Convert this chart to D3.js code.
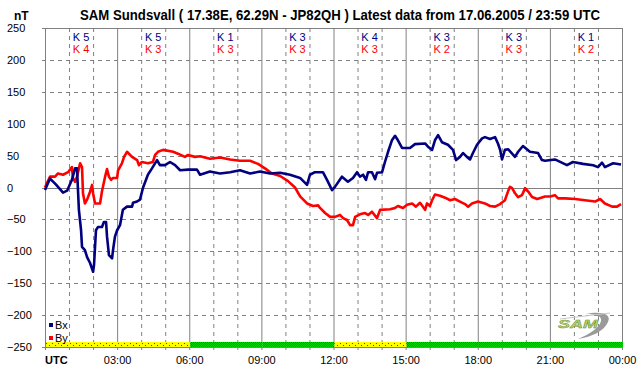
<!DOCTYPE html>
<html>
<head>
<meta charset="utf-8">
<script src="https://cdn.jsdelivr.net/npm/d3@7"></script>
<style>
  body { margin: 0; background: #fff; }
  svg { display: block; font-family: "Liberation Sans", Arial, sans-serif; }
</style>
</head>
<body>
<svg id="chart" width="642" height="376"></svg>
<script>
// Bx / By magnetometer readings, [hour UTC, nT]
const bx = [
  [0.00, -4], [0.21, 14], [0.45, 5], [0.75, -8], [0.92, -5], [1.12, 12], [1.25, 30], [1.33, 30],
  [1.41, -35], [1.50, -67], [1.54, -93], [1.66, -98], [1.75, -109], [1.87, -118], [2.00, -132],
  [2.04, -121], [2.12, -67], [2.20, -62], [2.37, -62], [2.45, -54], [2.54, -54], [2.58, -77],
  [2.66, -106], [2.79, -111], [2.83, -98], [2.91, -77], [3.00, -67], [3.12, -59], [3.24, -35],
  [3.41, -30], [3.62, -30], [3.66, -24], [3.83, -22], [3.95, -19], [4.08, 0], [4.28, 20],
  [4.45, 30], [4.66, 43], [4.78, 35], [4.99, 35], [5.20, 40], [5.41, 35], [5.62, 27], [5.95, 28],
  [6.32, 28], [6.45, 20], [6.86, 25], [7.28, 22], [7.70, 24], [8.11, 27], [8.53, 22], [8.94, 25],
  [9.36, 22], [9.78, 23], [10.19, 20], [10.61, 15], [10.90, 4], [11.02, 20], [11.23, 24],
  [11.56, 24], [11.73, 12], [11.94, -4], [12.06, 1], [12.35, 17], [12.60, 9], [12.81, 15],
  [12.98, 24], [13.10, 17], [13.23, 20], [13.35, 12], [13.44, 24], [13.60, 24], [13.73, 13],
  [13.81, 23], [14.02, 24], [14.14, 40], [14.27, 56], [14.43, 74], [14.56, 81], [14.68, 74],
  [14.85, 62], [15.18, 62], [15.39, 68], [15.81, 69], [15.93, 64], [16.10, 59], [16.22, 74],
  [16.35, 82], [16.51, 71], [16.76, 67], [16.97, 59], [17.10, 43], [17.26, 48], [17.39, 54],
  [17.55, 48], [17.68, 44], [17.80, 54], [17.97, 67], [18.18, 77], [18.30, 79], [18.51, 76],
  [18.72, 79], [18.84, 69], [18.93, 59], [19.01, 44], [19.13, 59], [19.26, 60], [19.55, 48],
  [19.68, 56], [19.88, 65], [20.17, 56], [20.51, 54], [20.67, 43], [20.80, 42], [21.21, 44],
  [21.71, 35], [21.96, 40], [22.38, 37], [22.80, 35], [23.00, 32], [23.17, 39], [23.29, 32],
  [23.63, 38], [23.96, 36]
];
const by = [
  [0.00, 0], [0.08, 7], [0.21, 17], [0.42, 17], [0.54, 22], [0.75, 20], [0.96, 24], [1.12, 32],
  [1.16, 15], [1.25, 9], [1.33, 17], [1.46, 38], [1.54, 32], [1.58, -9], [1.66, -25], [1.75, -19],
  [1.87, -7], [1.96, 4], [2.00, -9], [2.08, -25], [2.29, -25], [2.37, -6], [2.50, 17], [2.58, 29],
  [2.66, 17], [2.75, 12], [2.83, 15], [3.00, 15], [3.04, 27], [3.20, 38], [3.29, 48], [3.41, 56],
  [3.62, 48], [3.83, 43], [3.91, 35], [4.03, 40], [4.28, 38], [4.49, 40], [4.58, 51], [4.70, 56],
  [4.91, 59], [5.33, 56], [5.53, 53], [5.82, 48], [5.95, 51], [6.24, 48], [6.45, 49], [6.86, 45],
  [7.28, 47], [7.70, 44], [8.11, 42], [8.53, 42], [8.86, 37], [9.15, 30], [9.44, 22], [9.78, 18],
  [10.11, 10], [10.40, 0], [10.61, -14], [10.90, -25], [11.15, -29], [11.36, -28], [11.44, -32],
  [11.65, -40], [11.86, -46], [12.06, -46], [12.27, -43], [12.40, -48], [12.56, -51], [12.69, -59],
  [12.81, -59], [12.90, -46], [13.10, -42], [13.31, -40], [13.44, -43], [13.60, -38], [13.81, -48],
  [13.94, -35], [14.35, -34], [14.56, -32], [14.68, -29], [14.89, -32], [15.06, -27], [15.27, -25],
  [15.43, -30], [15.60, -24], [15.81, -35], [15.89, -25], [16.01, -29], [16.10, -20], [16.22, -11],
  [16.43, -13], [16.64, -16], [16.85, -20], [17.05, -18], [17.26, -22], [17.47, -26], [17.60, -30],
  [17.76, -25], [18.01, -22], [18.30, -25], [18.51, -29], [18.72, -30], [18.93, -26], [19.13, -20],
  [19.26, -6], [19.34, 1], [19.43, -1], [19.55, -9], [19.68, -15], [19.84, -12], [19.97, -1],
  [20.09, -6], [20.26, -15], [20.47, -18], [20.80, -14], [21.01, -14], [21.21, -12], [21.34, -17],
  [21.63, -17], [22.05, -18], [22.46, -20], [22.88, -22], [23.09, -18], [23.29, -25], [23.59, -30],
  [23.79, -30], [23.96, -26]
];

// K indices per 3 hour block
const kBx = [5, 5, 1, 3, 4, 3, 3, 1];
const kBy = [4, 3, 3, 3, 3, 2, 3, 2];
// status bar per 3 hour block
const status = ["warn", "warn", "ok", "ok", "warn", "ok", "ok", "ok"];

const yTicks = [250, 200, 150, 100, 50, 0, -50, -100, -150, -200, -250];
const xTicks = [3, 6, 9, 12, 15, 18, 21, 24];

const title = "SAM Sundsvall ( 17.38E, 62.29N - JP82QH ) Latest data from 17.06.2005 / 23:59 UTC";

const gridColor = "#808080";
const bxColor = "#000080";
const byColor = "#ff0000";

const svg = d3.select("#chart");

const x = d3.scaleLinear().domain([0, 24]).range([45, 622]);
const y = d3.scaleLinear().domain([-250, 250]).range([347, 28]);

// patterns for the status bar
const defs = svg.append("defs");
const warn = defs.append("pattern").attr("id", "warnFill")
    .attr("patternUnits", "userSpaceOnUse").attr("width", 6).attr("height", 4);
warn.append("rect").attr("width", 6).attr("height", 4).attr("fill", "#ffff00");
warn.append("rect").attr("x", 1).attr("y", 1).attr("width", 1).attr("height", 1).attr("fill", "#ff0000");
warn.append("rect").attr("x", 4).attr("y", 3).attr("width", 1).attr("height", 1).attr("fill", "#ff0000");
const ok = defs.append("pattern").attr("id", "okFill")
    .attr("patternUnits", "userSpaceOnUse").attr("width", 2).attr("height", 2);
ok.append("rect").attr("width", 2).attr("height", 2).attr("fill", "#00e000");
ok.append("rect").attr("x", 1).attr("width", 1).attr("height", 1).attr("fill", "#008800");
ok.append("rect").attr("y", 1).attr("width", 1).attr("height", 1).attr("fill", "#008800");

// grid
const hours = d3.range(1, 24);
svg.append("g").selectAll("line")
    .data(hours)
    .join("line")
    .attr("x1", d => x(d) + 0.5).attr("x2", d => x(d) + 0.5)
    .attr("y1", y(250)).attr("y2", y(-250) + 3)
    .attr("stroke", gridColor)
    .attr("stroke-dasharray", d => d % 3 === 0 ? null : "4,4");

svg.append("g").selectAll("line")
    .data(yTicks.slice(1, -1))
    .join("line")
    .attr("x1", x(0) - 3).attr("x2", x(24))
    .attr("y1", d => Math.round(y(d)) + 0.5).attr("y2", d => Math.round(y(d)) + 0.5)
    .attr("stroke", gridColor)
    .attr("stroke-dasharray", d => d === 0 ? null : "4,4");

// frame
svg.append("line").attr("x1", x(0) - 3).attr("x2", x(24)).attr("y1", Math.round(y(250)) + 0.5).attr("y2", Math.round(y(250)) + 0.5).attr("stroke", gridColor);
svg.append("line").attr("x1", x(0) - 3).attr("x2", x(24)).attr("y1", Math.round(y(-250)) + 0.5).attr("y2", Math.round(y(-250)) + 0.5).attr("stroke", gridColor);
svg.append("line").attr("x1", x(0) + 0.5).attr("x2", x(0) + 0.5).attr("y1", y(250)).attr("y2", y(-250) + 3).attr("stroke", gridColor);
svg.append("line").attr("x1", x(24) + 0.5).attr("x2", x(24) + 0.5).attr("y1", y(250)).attr("y2", y(-250) + 3).attr("stroke", gridColor);

// status bar
svg.append("g").selectAll("rect")
    .data(status)
    .join("rect")
    .attr("x", (d, i) => x(i * 3) + 1)
    .attr("width", (d, i) => x(i * 3 + 3) - x(i * 3))
    .attr("y", Math.round(y(-250)) - 5)
    .attr("height", 5)
    .attr("fill", d => d === "ok" ? "url(#okFill)" : "url(#warnFill)");

// K index labels
const kg = svg.append("g").attr("font-size", 11).attr("text-anchor", "middle");
kg.selectAll(".kbx")
    .data(kBx)
    .join("text")
    .attr("class", "kbx")
    .attr("x", (d, i) => x(i * 3 + 1.5))
    .attr("y", 41)
    .attr("fill", bxColor)
    .text(d => "K " + d);
kg.selectAll(".kby")
    .data(kBy)
    .join("text")
    .attr("class", "kby")
    .attr("x", (d, i) => x(i * 3 + 1.5))
    .attr("y", 53)
    .attr("fill", byColor)
    .text(d => "K " + d);

// y axis labels
const yAxis = svg.append("g")
    .attr("transform", `translate(${x(0)},0)`)
    .call(d3.axisLeft(y).tickValues(yTicks).tickSize(0).tickFormat(d3.format("d")));
yAxis.select(".domain").remove();
yAxis.selectAll("text")
    .attr("x", 7 - x(0))
    .attr("text-anchor", "start")
    .attr("font-family", "Liberation Sans, Arial, sans-serif")
    .attr("font-size", 11)
    .attr("fill", "#000");

// x axis labels
const xAxis = svg.append("g")
    .attr("transform", `translate(0,${y(-250)})`)
    .call(d3.axisBottom(x).tickValues(xTicks).tickSize(0)
        .tickFormat(d => String(d % 24).padStart(2, "0") + ":00"));
xAxis.select(".domain").remove();
xAxis.selectAll("text")
    .attr("y", 13)
    .attr("dy", "0.35em")
    .attr("font-family", "Liberation Sans, Arial, sans-serif")
    .attr("font-size", 11)
    .attr("fill", "#000");

svg.append("text")
    .attr("x", x(0))
    .attr("y", 364)
    .attr("font-size", 11)
    .attr("font-weight", "bold")
    .text("UTC");

// lines
const line = d3.line().x(d => x(d[0])).y(d => y(d[1]));
svg.append("path").datum(by)
    .attr("d", line).attr("fill", "none")
    .attr("stroke", byColor).attr("stroke-width", 2.6).attr("stroke-linejoin", "round");
svg.append("path").datum(bx)
    .attr("d", line).attr("fill", "none")
    .attr("stroke", bxColor).attr("stroke-width", 2.6).attr("stroke-linejoin", "round");

// legend
const legend = [["Bx", bxColor], ["By", byColor]];
const lg = svg.append("g").selectAll("g")
    .data(legend)
    .join("g")
    .attr("transform", (d, i) => `translate(49,${325 + i * 13})`);
lg.append("rect").attr("x", 0).attr("y", -2).attr("width", 4).attr("height", 4).attr("fill", d => d[1]);
lg.append("text").attr("x", 6).attr("dy", "0.35em").attr("font-size", 11).text(d => d[0]);

// logo
const logo = svg.append("g").attr("transform", "translate(556,312)");
logo.append("path")
    .attr("d", "M30,2 C45,-1 56,2 52,10 C48,19 36,25 22,27 C34,22 44,15 45,9 C46,4 40,2 30,2 Z")
    .attr("fill", "#9a9a9a");
logo.append("line").attr("x1", 4).attr("y1", 7).attr("x2", 54).attr("y2", 1)
    .attr("stroke", "#c8c8c8").attr("stroke-width", 1);
logo.append("text")
    .attr("x", 2).attr("y", 16)
    .attr("font-size", 11).attr("font-style", "italic").attr("font-weight", "bold")
    .attr("fill", "#b8d86a").attr("stroke", "#6a8a3a").attr("stroke-width", 0.4)
    .attr("textLength", 40).attr("lengthAdjust", "spacingAndGlyphs")
    .text("SAM");

// title
svg.append("text")
    .attr("x", 80).attr("y", 20)
    .attr("font-size", 14).attr("font-weight", "bold")
    .attr("textLength", 520).attr("lengthAdjust", "spacingAndGlyphs")
    .text(title);
svg.append("text")
    .attr("x", 14).attr("y", 20)
    .attr("font-size", 12).attr("font-weight", "bold")
    .text("nT");
</script>
</body>
</html>
